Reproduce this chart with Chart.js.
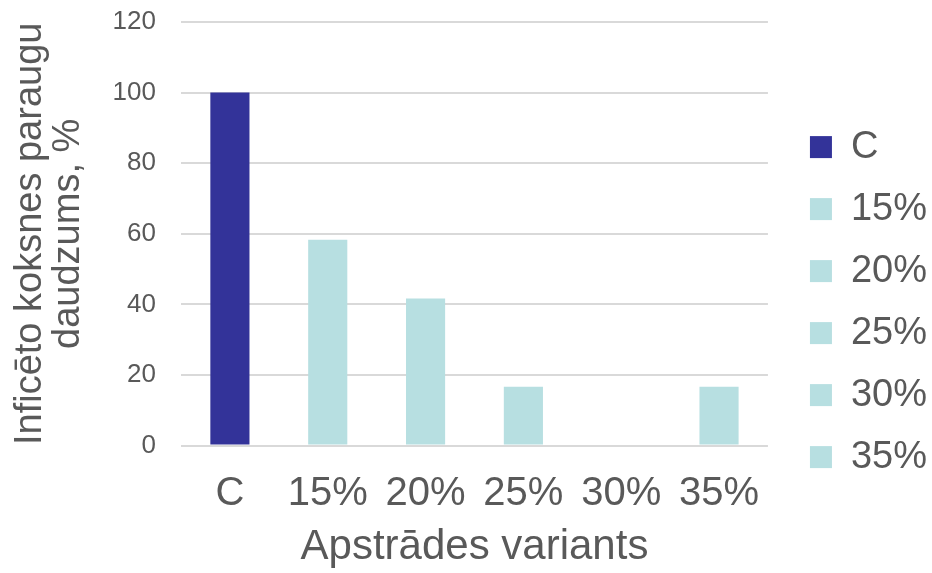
<!DOCTYPE html>
<html>
<head>
<meta charset="utf-8">
<script src="https://cdn.jsdelivr.net/npm/chart.js@4"></script>
<style>
  body { margin: 0; background: #fff; }
</style>
</head>
<body>
<canvas id="chart" width="932" height="573"></canvas>
<script>
var categories = ["C", "15%", "20%", "25%", "30%", "35%"];
var infectedShare = [100, 58.3, 41.7, 16.7, 0, 16.7];
var barColors = ["#333399", "#b7dfe1", "#b7dfe1", "#b7dfe1", "#b7dfe1", "#b7dfe1"];
var yTicks = [0, 20, 40, 60, 80, 100, 120];

var textColor = "#595959";
var fontFamily = "'Liberation Sans', Arial, sans-serif";
var clear = "rgba(0,0,0,0)";

var options = {
  type: "bar",
  data: {
    labels: categories,
    datasets: [
      {
        label: "Inficēto koksnes paraugu daudzums, %",
        data: infectedShare,
        backgroundColor: barColors,
        categoryPercentage: 1,
        barPercentage: 0.4,
        yAxisID: "y",
      },
    ],
  },
  options: {
    responsive: false,
    animation: false,
    layout: { padding: { top: 22, right: -5, bottom: 0, left: 12 } },
    plugins: {
      tooltip: { enabled: false },
      legend: {
        position: "right",
        // tiny empty title just nudges the items down a little
        title: { display: true, text: "", font: { size: 6 }, padding: 1 },
        labels: {
          color: textColor,
          font: { family: fontFamily, size: 38 },
          boxWidth: 22,
          boxHeight: 22,
          padding: 24,
          generateLabels: function (chart) {
            return categories.map(function (name, i) {
              return {
                text: name,
                fillStyle: barColors[i],
                strokeStyle: barColors[i],
                lineWidth: 0,
                hidden: false,
                index: i,
                fontColor: textColor,
              };
            });
          },
        },
      },
    },
    scales: {
      x: {
        grid: { display: false, drawTicks: true, tickLength: 24 },
        border: { display: false },
        ticks: {
          color: textColor,
          font: { family: fontFamily, size: 40 },
          padding: 0,
        },
        title: {
          display: true,
          text: "Apstrādes variants",
          color: textColor,
          font: { family: fontFamily, size: 42 },
          padding: { top: 5, bottom: 0 },
        },
      },
      y: {
        min: 0,
        max: 120,
        afterBuildTicks: function (axis) {
          axis.ticks = yTicks.map(function (v) { return { value: v }; });
        },
        afterFit: function (axis) { axis.width = 169; },
        grid: { color: "#d9d9d9", lineWidth: 2, drawTicks: true, tickLength: 25, tickColor: clear },
        border: { display: false },
        ticks: {
          color: textColor,
          font: { family: fontFamily, size: 26 },
          padding: 0,
        },
        title: {
          display: true,
          text: ["Inficēto koksnes paraugu", "daudzums, %"],
          color: textColor,
          font: { family: fontFamily, size: 38, lineHeight: 1.0 },
          padding: { top: 0, bottom: 0 },
        },
      },
      // empty right-hand axis, only keeps a gap between plot and legend
      gap: {
        type: "linear",
        position: "right",
        display: true,
        grid: { display: false },
        border: { display: false },
        ticks: { display: false },
        afterFit: function (axis) { axis.width = 18; },
      },
    },
  },
};

new Chart(document.getElementById("chart"), options);
</script>
</body>
</html>
